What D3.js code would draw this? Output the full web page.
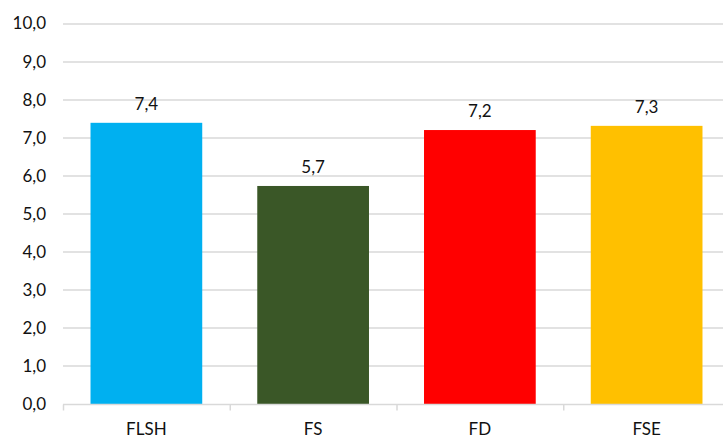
<!DOCTYPE html>
<html>
<head>
<meta charset="utf-8">
<script src="https://cdn.jsdelivr.net/npm/d3@7"></script>
<style>
  body { margin: 0; background: #fff; }
  svg text { font-family: Lato, "Liberation Sans", sans-serif; fill: #111; }
</style>
</head>
<body>
<div id="chart"></div>
<script>
// data
const categories = ["FLSH", "FS", "FD", "FSE"];
const values = [7.39, 5.73, 7.2, 7.31];
const barColors = ["#00B0F0", "#3A5727", "#FF0000", "#FFC000"];
const yTicks = [0, 1, 2, 3, 4, 5, 6, 7, 8, 9, 10];

const width = 723, height = 437;
const margin = {top: 23.5, right: -7, bottom: 33, left: 63};
const innerW = width - margin.left - margin.right;
const innerH = height - margin.top - margin.bottom;
const fontSize = 17;

const fmt = (v) => d3.format(".1f")(v).replace(".", ",");

let svg = d3.select("#chart").append("svg")
    .attr("width", width)
    .attr("height", height);

let g = svg.append("g").attr("transform", "translate(" + margin.left + "," + margin.top + ")");

let x = d3.scaleBand().domain(categories).range([0, innerW]).paddingInner(0.33).paddingOuter(0.165);
let y = d3.scaleLinear().domain([0, 10]).range([innerH, 0]);

// gridlines
g.append("g").selectAll("line")
    .data(yTicks.filter((t) => t > 0))
    .enter().append("line")
        .attr("x1", 0).attr("x2", innerW)
        .attr("y1", (d) => Math.round(y(d)) + 0.5)
        .attr("y2", (d) => Math.round(y(d)) + 0.5)
        .attr("stroke", "#d9d9d9")
        .attr("stroke-width", 1.5);

// y labels
g.append("g").selectAll("text")
    .data(yTicks)
    .enter().append("text")
        .attr("x", -17)
        .attr("y", (d) => y(d))
        .attr("dy", "0.35em")
        .attr("text-anchor", "end")
        .attr("font-size", fontSize)
        .text((d) => fmt(d));

// bars
g.append("g").selectAll("rect")
    .data(values)
    .enter().append("rect")
        .attr("x", (d, i) => x(categories[i]))
        .attr("y", (d) => y(d))
        .attr("width", x.bandwidth())
        .attr("height", (d) => innerH - y(d))
        .attr("fill", (d, i) => barColors[i]);

// value labels
g.append("g").selectAll("text")
    .data(values)
    .enter().append("text")
        .attr("x", (d, i) => x(categories[i]) + x.bandwidth() / 2)
        .attr("y", (d) => y(d) - 13)
        .attr("text-anchor", "middle")
        .attr("font-size", fontSize)
        .text((d) => fmt(d));

// x axis line + ticks between categories
let step = x.step();
let axis = g.append("g").attr("transform", "translate(0," + (innerH + 0.5) + ")");
axis.append("line")
    .attr("x1", 0).attr("x2", innerW)
    .attr("stroke", "#d9d9d9").attr("stroke-width", 1.5);
axis.selectAll(".tick")
    .data(d3.range(categories.length + 1))
    .enter().append("line")
        .attr("class", "tick")
        .attr("x1", (d) => d * step + 0.5).attr("x2", (d) => d * step + 0.5)
        .attr("y1", 0).attr("y2", 6)
        .attr("stroke", "#d9d9d9").attr("stroke-width", 1.5);
axis.selectAll("text")
    .data(categories)
    .enter().append("text")
        .attr("x", (d) => x(d) + x.bandwidth() / 2)
        .attr("y", 30)
        .attr("text-anchor", "middle")
        .attr("font-size", fontSize)
        .text((d) => d);
</script>
</body>
</html>
